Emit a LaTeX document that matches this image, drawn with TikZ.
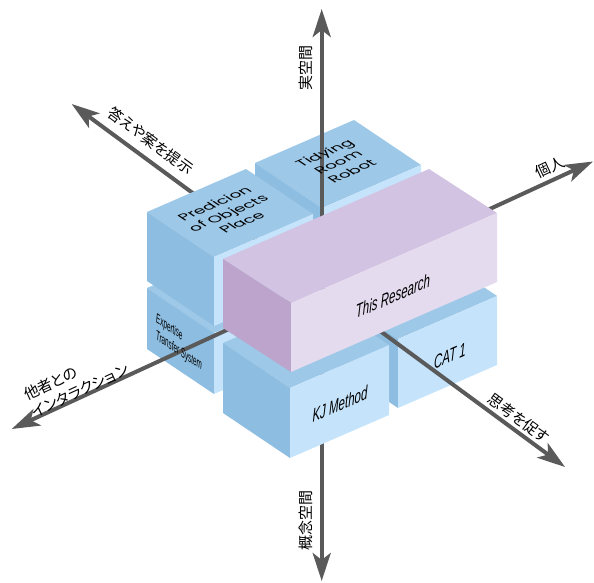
\documentclass[tikz,border=0pt]{standalone}
\usepackage{fontspec}
\usetikzlibrary{arrows.meta}
\newfontfamily\jpfont{Noto Sans CJK JP}[RawFeature=+palt]
\newfontfamily\geofont{Poppins}
\newfontfamily\facefont{Liberation Sans}
\definecolor{btop}{HTML}{9DC8E8}
\definecolor{bleft}{HTML}{8DBDE0}
\definecolor{bfront}{HTML}{C5E4FB}
\definecolor{ptop}{HTML}{D3C3E2}
\definecolor{pleft}{HTML}{BCA4CC}
\definecolor{pfront}{HTML}{E4DBEE}
\definecolor{axisgray}{HTML}{5A5A5A}
% #1,#2 screen position of the left corner of the top face
% #3,#4 vector along the width (canvas pt), #5,#6 vector along the depth (canvas pt)
% #7 height, #8 colour prefix
\newcommand\isobox[8]{%
  \begin{scope}[shift={(#1,#2)},x={(#3pt,#4pt)},y={(#5pt,#6pt)},z={(0pt,-#7pt)}]
    \fill[#8top] (0,0,0) -- (1,0,0) -- (1,1,0) -- (0,1,0) -- cycle;
    \fill[#8left] (0,0,0) -- (0,1,0) -- (0,1,1) -- (0,0,1) -- cycle;
    \fill[#8front] (0,1,0) -- (1,1,0) -- (1,1,1) -- (0,1,1) -- cycle;
  \end{scope}}
\tikzset{
  axisline/.style={draw=axisgray, line width=4pt,
    >={Stealth[length=28pt,width=18pt,inset=7pt]}, <->},
  jplabel/.style={font=\jpfont\fontsize{15}{19}\selectfont, text=black, inner sep=0pt},
  toplabel/.style={transform shape, align=center, inner sep=0pt,
    font=\geofont\fontsize{13}{16.5}\selectfont},
  frontlabel/.style={transform shape, inner sep=0pt,
    font=\facefont\itshape\fontsize{19}{22}\selectfont},
  sidelabel/.style={transform shape, align=left, inner sep=0pt,
    font=\facefont\itshape\fontsize{14}{17}\selectfont},
}
\begin{document}
\begin{tikzpicture}[x=1pt,y=-1pt]
\useasboundingbox (0,0) rectangle (594,583);

% back boxes
\isobox{147}{288}{99}{43}{67}{-45}{61}{b}   % Expertise
\isobox{255}{163}{99}{43}{67}{-45}{69}{b}   % Tidying
\isobox{331}{294}{99}{43}{67}{-45}{69}{b}   % CAT 1

% axes
\coordinate (upTip) at (321.7,9);
\coordinate (downTip) at (321.7,581);
\coordinate (answerTip) at (71.7,104);
\coordinate (thinkTip) at (565,467);
\coordinate (otherTip) at (11.7,429);
\coordinate (selfTip) at (593,161.5);
\draw[axisline] (upTip) -- (downTip);
\draw[axisline] (answerTip) -- (thinkTip);
\draw[axisline] (otherTip) -- (selfTip);

% front boxes
\isobox{147}{212}{99}{43}{67}{-45}{69}{b}   % Prediction
\isobox{223}{343}{99}{43}{67}{-45}{70}{b}   % KJ Method
\isobox{223}{259}{206}{90}{68}{-44}{69}{p}  % This Research

% box labels
\begin{scope}[shift={(228,213)},cm={1.146,0.498,-0.830,0.557,(0,0)}]
  \node[toplabel] (predLabel) {Predicion\\of Objects\\Place};
\end{scope}
\begin{scope}[shift={(338,162)},cm={1.146,0.498,-0.830,0.557,(0,0)}]
  \node[toplabel] (tidyLabel) {Tidying\\Room\\Robot};
\end{scope}
\begin{scope}[shift={(393,296)},cm={0.605,0.263,0,1,(0,0)}]
  \node[frontlabel] (researchLabel) {This Research};
\end{scope}
\begin{scope}[shift={(340,404)},cm={0.605,0.263,0,1,(0,0)}]
  \node[frontlabel] (kjLabel) {KJ Method};
\end{scope}
\begin{scope}[shift={(450,356)},cm={0.605,0.263,0,1,(0,0)}]
  \node[frontlabel] (catLabel) {CAT 1};
\end{scope}
\begin{scope}[shift={(179,343)},cm={0.448,-0.301,0,1,(0,0)}]
  \node[sidelabel] (expLabel) {Expertise\\Transfer System};
\end{scope}

% axis labels
\node[jplabel, rotate=90] (realSpace) at (305.5,68) {実空間};
\node[jplabel, rotate=90] (conceptSpace) at (305.5,520) {概念空間};
\node[jplabel, rotate=-36.3] (answerLabel) at (150.7,140.7) {答えや案を提示};
\node[jplabel, rotate=-36.3] (thinkLabel) at (518.7,418.3) {思考を促す};
\node[jplabel, rotate=24.8] (selfLabel) at (549.7,167.3) {個人};
\node[jplabel, rotate=24.8, align=left] (otherLabel) at (76,382) {他者との\\インタラクション};
\end{tikzpicture}
\end{document}
